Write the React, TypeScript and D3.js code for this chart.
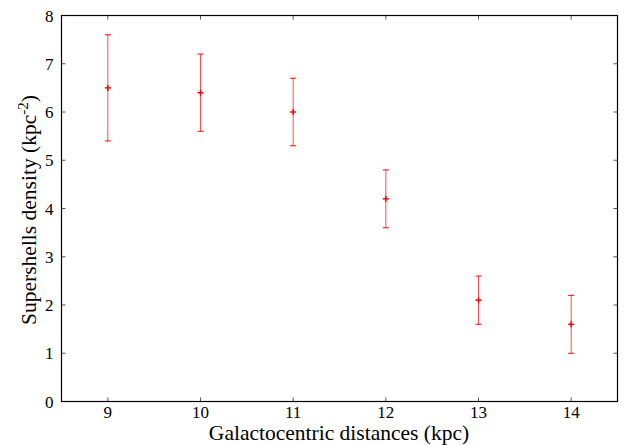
import React from "react";
import * as d3 from "d3";

const distances = [9, 10, 11, 12, 13, 14];
const density = [6.5, 6.4, 6.0, 4.2, 2.1, 1.6];
const lowerBound = [5.4, 5.6, 5.3, 3.6, 1.6, 1.0];
const upperBound = [7.6, 7.2, 6.7, 4.8, 2.6, 2.2];
const xTicks = [9, 10, 11, 12, 13, 14];
const yTicks = [0, 1, 2, 3, 4, 5, 6, 7, 8];

const W = 630, H = 445;
const L = 61.5, R = 617.5, T = 15.5, B = 401.5;

export default function App() {
  const x = d3.scaleLinear().domain([8.5, 14.5]).range([L, R]);
  const y = d3.scaleLinear().domain([0, 8]).range([B, T]);
  const font = "'Liberation Serif', 'Times New Roman', serif";
  const tk = 4;
  return (
    <svg width={W} height={H} style={{ position: "absolute", left: 0, top: 0 }}>
      <rect width={W} height={H} fill="#fff" />
      {yTicks.map((v) => (
        <g key={"y" + v}>
          <line x1={L} x2={L + tk} y1={y(v)} y2={y(v)} stroke="#555" />
          <line x1={R} x2={R - tk} y1={y(v)} y2={y(v)} stroke="#555" />
          <text x={L - 8} y={y(v) + 6} textAnchor="end" fontFamily={font} fontSize={17}>{v}</text>
        </g>
      ))}
      {xTicks.map((v) => (
        <g key={"x" + v}>
          <line x1={x(v)} x2={x(v)} y1={B} y2={B - tk} stroke="#555" />
          <line x1={x(v)} x2={x(v)} y1={T} y2={T + tk} stroke="#555" />
          <text x={x(v)} y={B + 16.5} textAnchor="middle" fontFamily={font} fontSize={17}>{v}</text>
        </g>
      ))}
      <rect x={L} y={T} width={R - L} height={B - T} fill="none" stroke="#000" strokeWidth={1.2} />
      {distances.map((d, i) => (
        <g key={"p" + i} stroke="#ff0000" strokeWidth={1}>
          <line x1={x(d)} x2={x(d)} y1={y(lowerBound[i])} y2={y(upperBound[i])} strokeOpacity={0.7} />
          <line x1={x(d) - 3} x2={x(d) + 3} y1={y(lowerBound[i])} y2={y(lowerBound[i])} />
          <line x1={x(d) - 3} x2={x(d) + 3} y1={y(upperBound[i])} y2={y(upperBound[i])} />
          <line x1={x(d) - 3} x2={x(d) + 3} y1={y(density[i])} y2={y(density[i])} strokeWidth={1.5} />
          <line x1={x(d)} x2={x(d)} y1={y(density[i]) - 3} y2={y(density[i]) + 3} strokeWidth={1.5} />
        </g>
      ))}
      <text x={339} y={440} textAnchor="middle" fontFamily={font} fontSize={21.5}>Galactocentric distances (kpc)</text>
      <text transform={`translate(36, 210) rotate(-90)`} textAnchor="middle" fontFamily={font} fontSize={21.5}>
        Supershells density (kpc<tspan dy={-8} fontSize={15}>-2</tspan><tspan dy={8}>)</tspan>
      </text>
    </svg>
  );
}
